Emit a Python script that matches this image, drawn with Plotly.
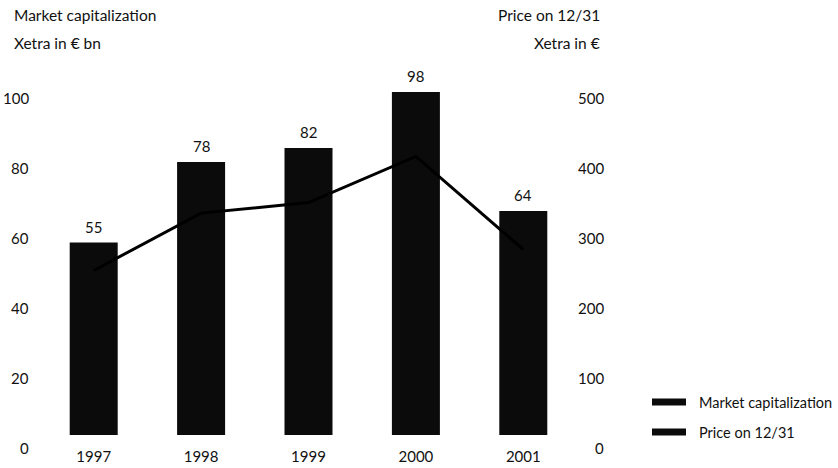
import plotly.graph_objects as go

# Annual figures
years = ["1997", "1998", "1999", "2000", "2001"]
market_cap_bn = [55, 78, 82, 98, 64]          # Xetra, EUR bn
price_eur = [235, 317, 332, 398, 265]         # price on 12/31, EUR

left_ticks = [0, 20, 40, 60, 80, 100]
right_ticks = [0, 100, 200, 300, 400, 500]

FONT = "Lato"
INK = "#111111"

# plot-area geometry in pixels (used for paper-coordinate placement)
L, R, T, B = 40, 261, 50, 33
PW, PH = 838 - L - R, 468 - T - B

fig = go.Figure()

fig.add_trace(go.Bar(
    x=years, y=market_cap_bn, name="Market capitalization",
    marker=dict(color="#0b0b0b", line=dict(width=0)),
    width=0.447, yaxis="y", showlegend=False,
))

fig.add_trace(go.Scatter(
    x=years, y=price_eur, name="Price on 12/31",
    mode="lines", line=dict(color="#000000", width=3),
    yaxis="y2", showlegend=False,
))

annotations = []

# value labels above the bars (category index positions)
for i, v in enumerate(market_cap_bn):
    annotations.append(dict(
        x=i, y=v, xref="x", yref="y", text=str(v), showarrow=False,
        yanchor="bottom", yshift=5, font=dict(family=FONT, size=15, color=INK),
    ))

# left axis labels, set slightly below their gridline positions
for t in left_ticks:
    annotations.append(dict(
        x=0, y=t, xref="paper", yref="y", text=str(t), showarrow=False,
        xanchor="right", xshift=-9, yshift=-13,
        font=dict(family=FONT, size=15, color=INK),
    ))

# right axis labels
for t in right_ticks:
    annotations.append(dict(
        x=1, y=t, xref="paper", yref="y2", text=str(t), showarrow=False,
        xanchor="right", xshift=29, yshift=-13,
        font=dict(family=FONT, size=15, color=INK),
    ))

# axis titles
title_font = dict(family=FONT, size=15.5, color=INK)
annotations += [
    dict(x=-28 / PW, y=1 + 35 / PH, xref="paper", yref="paper",
         text="Market capitalization", showarrow=False,
         xanchor="left", yanchor="middle", font=title_font),
    dict(x=-28 / PW, y=1 + 7 / PH, xref="paper", yref="paper",
         text="Xetra in € bn", showarrow=False,
         xanchor="left", yanchor="middle", font=title_font),
    dict(x=1 + 25 / PW, y=1 + 35 / PH, xref="paper", yref="paper",
         text="Price on 12/31", showarrow=False,
         xanchor="right", yanchor="middle", font=title_font),
    dict(x=1 + 25 / PW, y=1 + 7 / PH, xref="paper", yref="paper",
         text="Xetra in €", showarrow=False,
         xanchor="right", yanchor="middle", font=title_font),
]

# legend built from swatches and labels
legend_items = ["Market capitalization", "Price on 12/31"]
legend_y = [402, 432]
shapes = []
for label, yc in zip(legend_items, legend_y):
    shapes.append(dict(
        type="rect", xref="paper", yref="paper",
        x0=(652 - L) / PW, x1=(686 - L) / PW,
        y0=(T + PH - (yc + 3.5)) / PH, y1=(T + PH - (yc - 3.5)) / PH,
        fillcolor="#0b0b0b", line=dict(width=0),
    ))
    annotations.append(dict(
        x=(697 - L) / PW, y=(T + PH - yc) / PH, xref="paper", yref="paper",
        text=label, showarrow=False, xanchor="left", yanchor="middle",
        font=dict(family=FONT, size=14.5, color=INK),
    ))

fig.update_layout(
    width=838, height=468,
    margin=dict(l=L, r=R, t=T, b=B),
    paper_bgcolor="white", plot_bgcolor="white",
    showlegend=False,
    xaxis=dict(
        type="category", range=[-0.5, 4.5], automargin=False,
        showgrid=False, zeroline=False, showline=False,
        ticks="outside", ticklen=8, tickcolor="rgba(0,0,0,0)",
        tickfont=dict(family=FONT, size=15, color=INK),
    ),
    yaxis=dict(
        range=[0, 110], showgrid=False, zeroline=False, showline=False,
        showticklabels=False, ticks="", automargin=False,
    ),
    yaxis2=dict(
        range=[0, 550], overlaying="y", side="right",
        showgrid=False, zeroline=False, showline=False,
        showticklabels=False, ticks="", automargin=False,
    ),
    annotations=annotations,
    shapes=shapes,
)

fig.write_html("out.html")
